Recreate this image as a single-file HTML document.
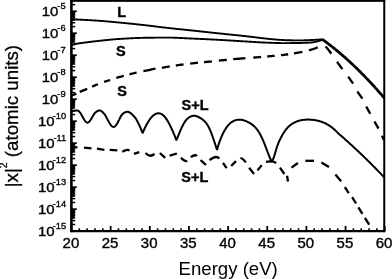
<!DOCTYPE html>
<html><head><meta charset="utf-8"><title>chart</title>
<style>html,body{margin:0;padding:0;background:#fff;overflow:hidden}body{width:392px;height:279px;font-family:"Liberation Sans",sans-serif}</style></head>
<body>
<svg width="392" height="279" viewBox="0 0 392 279" style="display:block;will-change:transform;filter:grayscale(1);font-family:'Liberation Sans',sans-serif" fill="#000">
<path d="M71.40 0 V232.15" stroke="#000" stroke-width="2.6" fill="none"/>
<path d="M384.25 0 V232.15" stroke="#000" stroke-width="2.0" fill="none"/>
<path d="M70.10 231.10 H385.25" stroke="#000" stroke-width="2.1" fill="none"/>
<rect x="70.10" y="0" width="315.15" height="1.85" fill="#000"/>
<line x1="71.50" y1="231.10" x2="71.50" y2="225.90" stroke="#000" stroke-width="1.8"/>
<line x1="79.33" y1="231.10" x2="79.33" y2="228.30" stroke="#000" stroke-width="1.6"/>
<line x1="87.16" y1="231.10" x2="87.16" y2="228.30" stroke="#000" stroke-width="1.6"/>
<line x1="94.99" y1="231.10" x2="94.99" y2="228.30" stroke="#000" stroke-width="1.6"/>
<line x1="102.82" y1="231.10" x2="102.82" y2="228.30" stroke="#000" stroke-width="1.6"/>
<line x1="110.65" y1="231.10" x2="110.65" y2="225.90" stroke="#000" stroke-width="1.8"/>
<line x1="118.48" y1="231.10" x2="118.48" y2="228.30" stroke="#000" stroke-width="1.6"/>
<line x1="126.31" y1="231.10" x2="126.31" y2="228.30" stroke="#000" stroke-width="1.6"/>
<line x1="134.14" y1="231.10" x2="134.14" y2="228.30" stroke="#000" stroke-width="1.6"/>
<line x1="141.97" y1="231.10" x2="141.97" y2="228.30" stroke="#000" stroke-width="1.6"/>
<line x1="149.80" y1="231.10" x2="149.80" y2="225.90" stroke="#000" stroke-width="1.8"/>
<line x1="157.63" y1="231.10" x2="157.63" y2="228.30" stroke="#000" stroke-width="1.6"/>
<line x1="165.46" y1="231.10" x2="165.46" y2="228.30" stroke="#000" stroke-width="1.6"/>
<line x1="173.29" y1="231.10" x2="173.29" y2="228.30" stroke="#000" stroke-width="1.6"/>
<line x1="181.12" y1="231.10" x2="181.12" y2="228.30" stroke="#000" stroke-width="1.6"/>
<line x1="188.95" y1="231.10" x2="188.95" y2="225.90" stroke="#000" stroke-width="1.8"/>
<line x1="196.78" y1="231.10" x2="196.78" y2="228.30" stroke="#000" stroke-width="1.6"/>
<line x1="204.61" y1="231.10" x2="204.61" y2="228.30" stroke="#000" stroke-width="1.6"/>
<line x1="212.44" y1="231.10" x2="212.44" y2="228.30" stroke="#000" stroke-width="1.6"/>
<line x1="220.27" y1="231.10" x2="220.27" y2="228.30" stroke="#000" stroke-width="1.6"/>
<line x1="228.10" y1="231.10" x2="228.10" y2="225.90" stroke="#000" stroke-width="1.8"/>
<line x1="235.93" y1="231.10" x2="235.93" y2="228.30" stroke="#000" stroke-width="1.6"/>
<line x1="243.76" y1="231.10" x2="243.76" y2="228.30" stroke="#000" stroke-width="1.6"/>
<line x1="251.59" y1="231.10" x2="251.59" y2="228.30" stroke="#000" stroke-width="1.6"/>
<line x1="259.42" y1="231.10" x2="259.42" y2="228.30" stroke="#000" stroke-width="1.6"/>
<line x1="267.25" y1="231.10" x2="267.25" y2="225.90" stroke="#000" stroke-width="1.8"/>
<line x1="275.08" y1="231.10" x2="275.08" y2="228.30" stroke="#000" stroke-width="1.6"/>
<line x1="282.91" y1="231.10" x2="282.91" y2="228.30" stroke="#000" stroke-width="1.6"/>
<line x1="290.74" y1="231.10" x2="290.74" y2="228.30" stroke="#000" stroke-width="1.6"/>
<line x1="298.57" y1="231.10" x2="298.57" y2="228.30" stroke="#000" stroke-width="1.6"/>
<line x1="306.40" y1="231.10" x2="306.40" y2="225.90" stroke="#000" stroke-width="1.8"/>
<line x1="314.23" y1="231.10" x2="314.23" y2="228.30" stroke="#000" stroke-width="1.6"/>
<line x1="322.06" y1="231.10" x2="322.06" y2="228.30" stroke="#000" stroke-width="1.6"/>
<line x1="329.89" y1="231.10" x2="329.89" y2="228.30" stroke="#000" stroke-width="1.6"/>
<line x1="337.72" y1="231.10" x2="337.72" y2="228.30" stroke="#000" stroke-width="1.6"/>
<line x1="345.55" y1="231.10" x2="345.55" y2="225.90" stroke="#000" stroke-width="1.8"/>
<line x1="353.38" y1="231.10" x2="353.38" y2="228.30" stroke="#000" stroke-width="1.6"/>
<line x1="361.21" y1="231.10" x2="361.21" y2="228.30" stroke="#000" stroke-width="1.6"/>
<line x1="369.04" y1="231.10" x2="369.04" y2="228.30" stroke="#000" stroke-width="1.6"/>
<line x1="376.87" y1="231.10" x2="376.87" y2="228.30" stroke="#000" stroke-width="1.6"/>
<line x1="384.70" y1="231.10" x2="384.70" y2="225.90" stroke="#000" stroke-width="1.8"/>
<line x1="71.50" y1="231.10" x2="76.80" y2="231.10" stroke="#000" stroke-width="1.7"/>
<line x1="71.50" y1="224.48" x2="75.20" y2="224.48" stroke="#000" stroke-width="1.5"/>
<line x1="71.50" y1="220.61" x2="75.20" y2="220.61" stroke="#000" stroke-width="1.5"/>
<line x1="71.50" y1="217.86" x2="75.20" y2="217.86" stroke="#000" stroke-width="1.5"/>
<line x1="71.50" y1="215.73" x2="75.20" y2="215.73" stroke="#000" stroke-width="1.5"/>
<line x1="71.50" y1="213.99" x2="75.20" y2="213.99" stroke="#000" stroke-width="1.5"/>
<line x1="71.50" y1="212.52" x2="75.20" y2="212.52" stroke="#000" stroke-width="1.5"/>
<line x1="71.50" y1="211.25" x2="75.20" y2="211.25" stroke="#000" stroke-width="1.5"/>
<line x1="71.50" y1="210.12" x2="75.20" y2="210.12" stroke="#000" stroke-width="1.5"/>
<rect x="71.50" y="209.12" width="2.90" height="9.15" fill="#000"/>
<line x1="71.50" y1="209.12" x2="76.80" y2="209.12" stroke="#000" stroke-width="1.7"/>
<line x1="71.50" y1="202.50" x2="75.20" y2="202.50" stroke="#000" stroke-width="1.5"/>
<line x1="71.50" y1="198.63" x2="75.20" y2="198.63" stroke="#000" stroke-width="1.5"/>
<line x1="71.50" y1="195.88" x2="75.20" y2="195.88" stroke="#000" stroke-width="1.5"/>
<line x1="71.50" y1="193.75" x2="75.20" y2="193.75" stroke="#000" stroke-width="1.5"/>
<line x1="71.50" y1="192.01" x2="75.20" y2="192.01" stroke="#000" stroke-width="1.5"/>
<line x1="71.50" y1="190.54" x2="75.20" y2="190.54" stroke="#000" stroke-width="1.5"/>
<line x1="71.50" y1="189.26" x2="75.20" y2="189.26" stroke="#000" stroke-width="1.5"/>
<line x1="71.50" y1="188.14" x2="75.20" y2="188.14" stroke="#000" stroke-width="1.5"/>
<rect x="71.50" y="187.13" width="2.90" height="9.15" fill="#000"/>
<line x1="71.50" y1="187.13" x2="76.80" y2="187.13" stroke="#000" stroke-width="1.7"/>
<line x1="71.50" y1="180.51" x2="75.20" y2="180.51" stroke="#000" stroke-width="1.5"/>
<line x1="71.50" y1="176.64" x2="75.20" y2="176.64" stroke="#000" stroke-width="1.5"/>
<line x1="71.50" y1="173.89" x2="75.20" y2="173.89" stroke="#000" stroke-width="1.5"/>
<line x1="71.50" y1="171.76" x2="75.20" y2="171.76" stroke="#000" stroke-width="1.5"/>
<line x1="71.50" y1="170.02" x2="75.20" y2="170.02" stroke="#000" stroke-width="1.5"/>
<line x1="71.50" y1="168.55" x2="75.20" y2="168.55" stroke="#000" stroke-width="1.5"/>
<line x1="71.50" y1="167.28" x2="75.20" y2="167.28" stroke="#000" stroke-width="1.5"/>
<line x1="71.50" y1="166.15" x2="75.20" y2="166.15" stroke="#000" stroke-width="1.5"/>
<rect x="71.50" y="165.14" width="2.90" height="9.15" fill="#000"/>
<line x1="71.50" y1="165.14" x2="76.80" y2="165.14" stroke="#000" stroke-width="1.7"/>
<line x1="71.50" y1="158.53" x2="75.20" y2="158.53" stroke="#000" stroke-width="1.5"/>
<line x1="71.50" y1="154.66" x2="75.20" y2="154.66" stroke="#000" stroke-width="1.5"/>
<line x1="71.50" y1="151.91" x2="75.20" y2="151.91" stroke="#000" stroke-width="1.5"/>
<line x1="71.50" y1="149.78" x2="75.20" y2="149.78" stroke="#000" stroke-width="1.5"/>
<line x1="71.50" y1="148.04" x2="75.20" y2="148.04" stroke="#000" stroke-width="1.5"/>
<line x1="71.50" y1="146.57" x2="75.20" y2="146.57" stroke="#000" stroke-width="1.5"/>
<line x1="71.50" y1="145.29" x2="75.20" y2="145.29" stroke="#000" stroke-width="1.5"/>
<line x1="71.50" y1="144.17" x2="75.20" y2="144.17" stroke="#000" stroke-width="1.5"/>
<rect x="71.50" y="143.16" width="2.90" height="9.15" fill="#000"/>
<line x1="71.50" y1="143.16" x2="76.80" y2="143.16" stroke="#000" stroke-width="1.7"/>
<line x1="71.50" y1="136.54" x2="75.20" y2="136.54" stroke="#000" stroke-width="1.5"/>
<line x1="71.50" y1="132.67" x2="75.20" y2="132.67" stroke="#000" stroke-width="1.5"/>
<line x1="71.50" y1="129.92" x2="75.20" y2="129.92" stroke="#000" stroke-width="1.5"/>
<line x1="71.50" y1="127.79" x2="75.20" y2="127.79" stroke="#000" stroke-width="1.5"/>
<line x1="71.50" y1="126.05" x2="75.20" y2="126.05" stroke="#000" stroke-width="1.5"/>
<line x1="71.50" y1="124.58" x2="75.20" y2="124.58" stroke="#000" stroke-width="1.5"/>
<line x1="71.50" y1="123.31" x2="75.20" y2="123.31" stroke="#000" stroke-width="1.5"/>
<line x1="71.50" y1="122.18" x2="75.20" y2="122.18" stroke="#000" stroke-width="1.5"/>
<rect x="71.50" y="121.17" width="2.90" height="9.15" fill="#000"/>
<line x1="71.50" y1="121.17" x2="76.80" y2="121.17" stroke="#000" stroke-width="1.7"/>
<line x1="71.50" y1="114.56" x2="75.20" y2="114.56" stroke="#000" stroke-width="1.5"/>
<line x1="71.50" y1="110.69" x2="75.20" y2="110.69" stroke="#000" stroke-width="1.5"/>
<line x1="71.50" y1="107.94" x2="75.20" y2="107.94" stroke="#000" stroke-width="1.5"/>
<line x1="71.50" y1="105.81" x2="75.20" y2="105.81" stroke="#000" stroke-width="1.5"/>
<line x1="71.50" y1="104.07" x2="75.20" y2="104.07" stroke="#000" stroke-width="1.5"/>
<line x1="71.50" y1="102.60" x2="75.20" y2="102.60" stroke="#000" stroke-width="1.5"/>
<line x1="71.50" y1="101.32" x2="75.20" y2="101.32" stroke="#000" stroke-width="1.5"/>
<line x1="71.50" y1="100.20" x2="75.20" y2="100.20" stroke="#000" stroke-width="1.5"/>
<rect x="71.50" y="99.19" width="2.90" height="9.15" fill="#000"/>
<line x1="71.50" y1="99.19" x2="76.80" y2="99.19" stroke="#000" stroke-width="1.7"/>
<line x1="71.50" y1="92.57" x2="75.20" y2="92.57" stroke="#000" stroke-width="1.5"/>
<line x1="71.50" y1="88.70" x2="75.20" y2="88.70" stroke="#000" stroke-width="1.5"/>
<line x1="71.50" y1="85.95" x2="75.20" y2="85.95" stroke="#000" stroke-width="1.5"/>
<line x1="71.50" y1="83.82" x2="75.20" y2="83.82" stroke="#000" stroke-width="1.5"/>
<line x1="71.50" y1="82.08" x2="75.20" y2="82.08" stroke="#000" stroke-width="1.5"/>
<line x1="71.50" y1="80.61" x2="75.20" y2="80.61" stroke="#000" stroke-width="1.5"/>
<line x1="71.50" y1="79.34" x2="75.20" y2="79.34" stroke="#000" stroke-width="1.5"/>
<line x1="71.50" y1="78.21" x2="75.20" y2="78.21" stroke="#000" stroke-width="1.5"/>
<rect x="71.50" y="77.20" width="2.90" height="9.15" fill="#000"/>
<line x1="71.50" y1="77.21" x2="76.80" y2="77.21" stroke="#000" stroke-width="1.7"/>
<line x1="71.50" y1="70.59" x2="75.20" y2="70.59" stroke="#000" stroke-width="1.5"/>
<line x1="71.50" y1="66.72" x2="75.20" y2="66.72" stroke="#000" stroke-width="1.5"/>
<line x1="71.50" y1="63.97" x2="75.20" y2="63.97" stroke="#000" stroke-width="1.5"/>
<line x1="71.50" y1="61.84" x2="75.20" y2="61.84" stroke="#000" stroke-width="1.5"/>
<line x1="71.50" y1="60.10" x2="75.20" y2="60.10" stroke="#000" stroke-width="1.5"/>
<line x1="71.50" y1="58.63" x2="75.20" y2="58.63" stroke="#000" stroke-width="1.5"/>
<line x1="71.50" y1="57.35" x2="75.20" y2="57.35" stroke="#000" stroke-width="1.5"/>
<line x1="71.50" y1="56.23" x2="75.20" y2="56.23" stroke="#000" stroke-width="1.5"/>
<rect x="71.50" y="55.22" width="2.90" height="9.15" fill="#000"/>
<line x1="71.50" y1="55.22" x2="76.80" y2="55.22" stroke="#000" stroke-width="1.7"/>
<line x1="71.50" y1="48.60" x2="75.20" y2="48.60" stroke="#000" stroke-width="1.5"/>
<line x1="71.50" y1="44.73" x2="75.20" y2="44.73" stroke="#000" stroke-width="1.5"/>
<line x1="71.50" y1="41.98" x2="75.20" y2="41.98" stroke="#000" stroke-width="1.5"/>
<line x1="71.50" y1="39.85" x2="75.20" y2="39.85" stroke="#000" stroke-width="1.5"/>
<line x1="71.50" y1="38.11" x2="75.20" y2="38.11" stroke="#000" stroke-width="1.5"/>
<line x1="71.50" y1="36.64" x2="75.20" y2="36.64" stroke="#000" stroke-width="1.5"/>
<line x1="71.50" y1="35.37" x2="75.20" y2="35.37" stroke="#000" stroke-width="1.5"/>
<line x1="71.50" y1="34.24" x2="75.20" y2="34.24" stroke="#000" stroke-width="1.5"/>
<rect x="71.50" y="33.23" width="2.90" height="9.15" fill="#000"/>
<line x1="71.50" y1="33.23" x2="76.80" y2="33.23" stroke="#000" stroke-width="1.7"/>
<line x1="71.50" y1="26.62" x2="75.20" y2="26.62" stroke="#000" stroke-width="1.5"/>
<line x1="71.50" y1="22.75" x2="75.20" y2="22.75" stroke="#000" stroke-width="1.5"/>
<line x1="71.50" y1="20.00" x2="75.20" y2="20.00" stroke="#000" stroke-width="1.5"/>
<line x1="71.50" y1="17.87" x2="75.20" y2="17.87" stroke="#000" stroke-width="1.5"/>
<line x1="71.50" y1="16.13" x2="75.20" y2="16.13" stroke="#000" stroke-width="1.5"/>
<line x1="71.50" y1="14.66" x2="75.20" y2="14.66" stroke="#000" stroke-width="1.5"/>
<line x1="71.50" y1="13.38" x2="75.20" y2="13.38" stroke="#000" stroke-width="1.5"/>
<line x1="71.50" y1="12.26" x2="75.20" y2="12.26" stroke="#000" stroke-width="1.5"/>
<rect x="71.50" y="11.25" width="2.90" height="9.15" fill="#000"/>
<line x1="71.50" y1="11.25" x2="76.80" y2="11.25" stroke="#000" stroke-width="1.7"/>
<line x1="71.50" y1="4.63" x2="75.20" y2="4.63" stroke="#000" stroke-width="1.5"/>
<text transform="translate(70.90,247.60) scale(1,0.920)" font-size="15" text-anchor="middle" stroke="#000" stroke-width="0.4">20</text>
<text transform="translate(110.05,247.60) scale(1,0.920)" font-size="15" text-anchor="middle" stroke="#000" stroke-width="0.4">25</text>
<text transform="translate(149.20,247.60) scale(1,0.920)" font-size="15" text-anchor="middle" stroke="#000" stroke-width="0.4">30</text>
<text transform="translate(188.35,247.60) scale(1,0.920)" font-size="15" text-anchor="middle" stroke="#000" stroke-width="0.4">35</text>
<text transform="translate(227.50,247.60) scale(1,0.920)" font-size="15" text-anchor="middle" stroke="#000" stroke-width="0.4">40</text>
<text transform="translate(266.65,247.60) scale(1,0.920)" font-size="15" text-anchor="middle" stroke="#000" stroke-width="0.4">45</text>
<text transform="translate(305.80,247.60) scale(1,0.920)" font-size="15" text-anchor="middle" stroke="#000" stroke-width="0.4">50</text>
<text transform="translate(344.95,247.60) scale(1,0.920)" font-size="15" text-anchor="middle" stroke="#000" stroke-width="0.4">55</text>
<text transform="translate(384.10,247.60) scale(1,0.920)" font-size="15" text-anchor="middle" stroke="#000" stroke-width="0.4">60</text>
<text transform="translate(54.60,236.10) scale(1,0.88)" font-size="15" text-anchor="end" stroke="#000" stroke-width="0.4">10</text>
<text transform="translate(66.20,228.60) scale(1,0.95)" font-size="9.3" text-anchor="end" stroke="#000" stroke-width="0.35">-15</text>
<text transform="translate(54.60,214.12) scale(1,0.88)" font-size="15" text-anchor="end" stroke="#000" stroke-width="0.4">10</text>
<text transform="translate(66.20,206.62) scale(1,0.95)" font-size="9.3" text-anchor="end" stroke="#000" stroke-width="0.35">-14</text>
<text transform="translate(54.60,192.13) scale(1,0.88)" font-size="15" text-anchor="end" stroke="#000" stroke-width="0.4">10</text>
<text transform="translate(66.20,184.63) scale(1,0.95)" font-size="9.3" text-anchor="end" stroke="#000" stroke-width="0.35">-13</text>
<text transform="translate(54.60,170.14) scale(1,0.88)" font-size="15" text-anchor="end" stroke="#000" stroke-width="0.4">10</text>
<text transform="translate(66.20,162.64) scale(1,0.95)" font-size="9.3" text-anchor="end" stroke="#000" stroke-width="0.35">-12</text>
<text transform="translate(54.60,148.16) scale(1,0.88)" font-size="15" text-anchor="end" stroke="#000" stroke-width="0.4">10</text>
<text transform="translate(66.20,140.66) scale(1,0.95)" font-size="9.3" text-anchor="end" stroke="#000" stroke-width="0.35">-11</text>
<text transform="translate(54.60,126.17) scale(1,0.88)" font-size="15" text-anchor="end" stroke="#000" stroke-width="0.4">10</text>
<text transform="translate(66.20,118.67) scale(1,0.95)" font-size="9.3" text-anchor="end" stroke="#000" stroke-width="0.35">-10</text>
<text transform="translate(58.30,104.19) scale(1,0.88)" font-size="15" text-anchor="end" stroke="#000" stroke-width="0.4">10</text>
<text transform="translate(65.60,96.69) scale(1,0.95)" font-size="9.3" text-anchor="end" stroke="#000" stroke-width="0.35">-9</text>
<text transform="translate(58.30,82.21) scale(1,0.88)" font-size="15" text-anchor="end" stroke="#000" stroke-width="0.4">10</text>
<text transform="translate(65.60,74.71) scale(1,0.95)" font-size="9.3" text-anchor="end" stroke="#000" stroke-width="0.35">-8</text>
<text transform="translate(58.30,60.22) scale(1,0.88)" font-size="15" text-anchor="end" stroke="#000" stroke-width="0.4">10</text>
<text transform="translate(65.60,52.72) scale(1,0.95)" font-size="9.3" text-anchor="end" stroke="#000" stroke-width="0.35">-7</text>
<text transform="translate(58.30,38.23) scale(1,0.88)" font-size="15" text-anchor="end" stroke="#000" stroke-width="0.4">10</text>
<text transform="translate(65.60,30.73) scale(1,0.95)" font-size="9.3" text-anchor="end" stroke="#000" stroke-width="0.35">-6</text>
<text transform="translate(58.30,16.25) scale(1,0.88)" font-size="15" text-anchor="end" stroke="#000" stroke-width="0.4">10</text>
<text transform="translate(65.60,8.75) scale(1,0.95)" font-size="9.3" text-anchor="end" stroke="#000" stroke-width="0.35">-5</text>
<text x="228.2" y="275.0" font-size="18.6" text-anchor="middle">Energy (eV)</text>
<text transform="translate(17.6,187.3) rotate(-90)" font-size="18.72" text-anchor="start" stroke="#000" stroke-width="0.3">|x|<tspan font-size="10.5" dy="-10.3">2</tspan><tspan dy="10.3"> (atomic units)</tspan></text>
<text transform="translate(117.20,16.80) scale(1,1.000)" font-size="14.5" font-weight="bold" text-anchor="start" stroke="#000" stroke-width="0.4">L</text>
<text transform="translate(115.90,55.80) scale(1,1.000)" font-size="14.5" font-weight="bold" text-anchor="start" stroke="#000" stroke-width="0.4">S</text>
<text transform="translate(117.20,96.10) scale(1,1.000)" font-size="14.5" font-weight="bold" text-anchor="start" stroke="#000" stroke-width="0.4">S</text>
<text transform="translate(181.50,110.00) scale(1,1.000)" font-size="14.5" font-weight="bold" text-anchor="start" stroke="#000" stroke-width="0.4">S+L</text>
<text transform="translate(181.30,181.60) scale(1,1.000)" font-size="14.5" font-weight="bold" text-anchor="start" stroke="#000" stroke-width="0.4">S+L</text>
<path d="M71.60 19.30 L72.10 19.32 L72.60 19.34 L73.10 19.35 L73.60 19.37 L74.10 19.39 L74.60 19.41 L75.10 19.43 L75.60 19.45 L76.10 19.48 L76.60 19.50 L77.10 19.52 L77.60 19.54 L78.09 19.56 L78.59 19.59 L79.09 19.61 L79.59 19.63 L80.09 19.66 L80.59 19.68 L81.09 19.71 L81.59 19.73 L82.09 19.76 L82.59 19.78 L83.09 19.81 L83.59 19.83 L84.09 19.86 L84.59 19.89 L85.09 19.91 L85.59 19.94 L86.09 19.97 L86.59 20.00 L87.09 20.02 L87.59 20.05 L88.09 20.08 L88.59 20.11 L89.09 20.14 L89.59 20.17 L90.09 20.20 L90.58 20.23 L91.08 20.26 L91.58 20.29 L92.08 20.32 L92.58 20.35 L93.08 20.38 L93.58 20.41 L94.08 20.44 L94.58 20.47 L95.08 20.51 L95.58 20.54 L96.08 20.57 L96.58 20.60 L97.08 20.64 L97.58 20.67 L98.08 20.71 L98.58 20.74 L99.08 20.78 L99.58 20.82 L100.08 20.85 L100.58 20.89 L101.08 20.93 L101.58 20.97 L102.08 21.01 L102.58 21.05 L103.07 21.09 L103.57 21.13 L104.07 21.17 L104.57 21.21 L105.07 21.25 L105.57 21.29 L106.07 21.34 L106.57 21.38 L107.07 21.42 L107.57 21.46 L108.07 21.51 L108.57 21.55 L109.07 21.60 L109.57 21.64 L110.07 21.68 L110.57 21.73 L111.07 21.77 L111.57 21.82 L112.07 21.87 L112.57 21.91 L113.07 21.96 L113.57 22.00 L114.07 22.05 L114.57 22.09 L115.07 22.14 L115.56 22.19 L116.06 22.23 L116.56 22.28 L117.06 22.33 L117.56 22.37 L118.06 22.42 L118.56 22.47 L119.06 22.51 L119.56 22.56 L120.06 22.61 L120.56 22.65 L121.06 22.70 L121.56 22.75 L122.06 22.79 L122.56 22.84 L123.06 22.89 L123.56 22.94 L124.06 22.99 L124.56 23.04 L125.06 23.08 L125.56 23.13 L126.06 23.18 L126.56 23.23 L127.06 23.28 L127.56 23.33 L128.05 23.38 L128.55 23.43 L129.05 23.49 L129.55 23.54 L130.05 23.59 L130.55 23.64 L131.05 23.69 L131.55 23.74 L132.05 23.79 L132.55 23.85 L133.05 23.90 L133.55 23.95 L134.05 24.01 L134.55 24.06 L135.05 24.11 L135.55 24.16 L136.05 24.22 L136.55 24.27 L137.05 24.33 L137.55 24.38 L138.05 24.43 L138.55 24.49 L139.05 24.54 L139.55 24.60 L140.05 24.65 L140.55 24.71 L141.04 24.76 L141.54 24.82 L142.04 24.87 L142.54 24.93 L143.04 24.98 L143.54 25.04 L144.04 25.09 L144.54 25.15 L145.04 25.20 L145.54 25.26 L146.04 25.32 L146.54 25.37 L147.04 25.43 L147.54 25.49 L148.04 25.55 L148.54 25.61 L149.04 25.67 L149.54 25.73 L150.04 25.79 L150.54 25.85 L151.04 25.91 L151.54 25.97 L152.04 26.03 L152.54 26.09 L153.04 26.15 L153.53 26.21 L154.03 26.27 L154.53 26.33 L155.03 26.40 L155.53 26.46 L156.03 26.52 L156.53 26.58 L157.03 26.64 L157.53 26.71 L158.03 26.77 L158.53 26.83 L159.03 26.89 L159.53 26.95 L160.03 27.01 L160.53 27.08 L161.03 27.14 L161.53 27.20 L162.03 27.26 L162.53 27.32 L163.03 27.38 L163.53 27.44 L164.03 27.50 L164.53 27.56 L165.03 27.62 L165.53 27.67 L166.02 27.73 L166.52 27.79 L167.02 27.85 L167.52 27.90 L168.02 27.96 L168.52 28.01 L169.02 28.07 L169.52 28.13 L170.02 28.18 L170.52 28.24 L171.02 28.29 L171.52 28.34 L172.02 28.40 L172.52 28.45 L173.02 28.51 L173.52 28.56 L174.02 28.61 L174.52 28.67 L175.02 28.72 L175.52 28.77 L176.02 28.83 L176.52 28.88 L177.02 28.93 L177.52 28.98 L178.02 29.04 L178.51 29.09 L179.01 29.14 L179.51 29.19 L180.01 29.24 L180.51 29.30 L181.01 29.35 L181.51 29.40 L182.01 29.45 L182.51 29.50 L183.01 29.55 L183.51 29.61 L184.01 29.66 L184.51 29.71 L185.01 29.76 L185.51 29.81 L186.01 29.87 L186.51 29.92 L187.01 29.97 L187.51 30.02 L188.01 30.07 L188.51 30.13 L189.01 30.18 L189.51 30.23 L190.01 30.28 L190.51 30.34 L191.00 30.39 L191.50 30.44 L192.00 30.49 L192.50 30.55 L193.00 30.60 L193.50 30.65 L194.00 30.71 L194.50 30.76 L195.00 30.81 L195.50 30.87 L196.00 30.92 L196.50 30.98 L197.00 31.03 L197.50 31.08 L198.00 31.14 L198.50 31.19 L199.00 31.25 L199.50 31.30 L200.00 31.35 L200.50 31.41 L201.00 31.46 L201.50 31.52 L202.00 31.57 L202.50 31.63 L203.00 31.68 L203.49 31.73 L203.99 31.79 L204.49 31.84 L204.99 31.90 L205.49 31.95 L205.99 32.01 L206.49 32.06 L206.99 32.12 L207.49 32.17 L207.99 32.22 L208.49 32.28 L208.99 32.33 L209.49 32.39 L209.99 32.44 L210.49 32.49 L210.99 32.55 L211.49 32.60 L211.99 32.66 L212.49 32.71 L212.99 32.76 L213.49 32.82 L213.99 32.87 L214.49 32.93 L214.99 32.98 L215.49 33.03 L215.98 33.09 L216.48 33.14 L216.98 33.19 L217.48 33.25 L217.98 33.30 L218.48 33.35 L218.98 33.40 L219.48 33.46 L219.98 33.51 L220.48 33.56 L220.98 33.61 L221.48 33.66 L221.98 33.72 L222.48 33.77 L222.98 33.82 L223.48 33.87 L223.98 33.92 L224.48 33.97 L224.98 34.02 L225.48 34.08 L225.98 34.13 L226.48 34.18 L226.98 34.23 L227.48 34.28 L227.98 34.33 L228.47 34.38 L228.97 34.43 L229.47 34.48 L229.97 34.53 L230.47 34.58 L230.97 34.64 L231.47 34.69 L231.97 34.74 L232.47 34.79 L232.97 34.84 L233.47 34.89 L233.97 34.94 L234.47 34.99 L234.97 35.05 L235.47 35.10 L235.97 35.15 L236.47 35.20 L236.97 35.25 L237.47 35.31 L237.97 35.36 L238.47 35.41 L238.97 35.46 L239.47 35.52 L239.97 35.57 L240.47 35.62 L240.96 35.68 L241.46 35.73 L241.96 35.79 L242.46 35.84 L242.96 35.90 L243.46 35.95 L243.96 36.01 L244.46 36.06 L244.96 36.12 L245.46 36.17 L245.96 36.23 L246.46 36.29 L246.96 36.34 L247.46 36.40 L247.96 36.46 L248.46 36.52 L248.96 36.57 L249.46 36.63 L249.96 36.69 L250.46 36.75 L250.96 36.81 L251.46 36.87 L251.96 36.92 L252.46 36.98 L252.96 37.04 L253.45 37.10 L253.95 37.16 L254.45 37.22 L254.95 37.28 L255.45 37.34 L255.95 37.39 L256.45 37.45 L256.95 37.51 L257.45 37.57 L257.95 37.64 L258.45 37.70 L258.95 37.76 L259.45 37.82 L259.95 37.88 L260.45 37.95 L260.95 38.01 L261.45 38.07 L261.95 38.13 L262.45 38.19 L262.95 38.25 L263.45 38.31 L263.95 38.37 L264.45 38.43 L264.95 38.49 L265.45 38.54 L265.95 38.59 L266.44 38.65 L266.94 38.70 L267.44 38.75 L267.94 38.81 L268.44 38.86 L268.94 38.91 L269.44 38.96 L269.94 39.01 L270.44 39.07 L270.94 39.12 L271.44 39.17 L271.94 39.22 L272.44 39.27 L272.94 39.31 L273.44 39.36 L273.94 39.41 L274.44 39.45 L274.94 39.50 L275.44 39.54 L275.94 39.58 L276.44 39.62 L276.94 39.66 L277.44 39.70 L277.94 39.73 L278.44 39.76 L278.93 39.80 L279.43 39.83 L279.93 39.86 L280.43 39.89 L280.93 39.92 L281.43 39.94 L281.93 39.97 L282.43 40.00 L282.93 40.03 L283.43 40.06 L283.93 40.08 L284.43 40.11 L284.93 40.13 L285.43 40.15 L285.93 40.18 L286.43 40.20 L286.93 40.22 L287.43 40.23 L287.93 40.25 L288.43 40.27 L288.93 40.28 L289.43 40.29 L289.93 40.30 L290.43 40.31 L290.93 40.31 L291.42 40.32 L291.92 40.33 L292.42 40.34 L292.92 40.34 L293.42 40.35 L293.92 40.36 L294.42 40.36 L294.92 40.37 L295.42 40.37 L295.92 40.38 L296.42 40.38 L296.92 40.39 L297.42 40.39 L297.92 40.39 L298.42 40.40 L298.92 40.40 L299.42 40.40 L299.92 40.40 L300.42 40.40 L300.92 40.40 L301.42 40.39 L301.92 40.38 L302.42 40.38 L302.92 40.36 L303.42 40.35 L303.91 40.34 L304.41 40.32 L304.91 40.31 L305.41 40.29 L305.91 40.27 L306.41 40.25 L306.91 40.23 L307.41 40.21 L307.91 40.19 L308.41 40.17 L308.91 40.14 L309.41 40.12 L309.91 40.10 L310.41 40.07 L310.91 40.05 L311.41 40.03 L311.91 40.00 L312.41 39.98 L312.91 39.96 L313.41 39.93 L313.91 39.90 L314.41 39.88 L314.91 39.85 L315.41 39.82 L315.91 39.79 L316.40 39.75 L316.90 39.72 L317.40 39.69 L317.90 39.65 L318.40 39.61 L318.90 39.58 L319.40 39.54 L319.90 39.50 L320.40 39.46 L320.90 39.42 L321.40 39.38 L321.90 39.34 L322.40 39.30 L322.95 39.30 L323.99 40.05 L325.03 40.82 L326.08 41.59 L327.12 42.37 L328.16 43.15 L329.20 43.95 L330.25 44.75 L331.29 45.56 L332.33 46.38 L333.37 47.21 L334.42 48.04 L335.46 48.89 L336.50 49.74 L337.54 50.60 L338.59 51.46 L339.63 52.34 L340.67 53.22 L341.71 54.11 L342.76 55.01 L343.80 55.92 L344.84 56.83 L345.88 57.76 L346.92 58.69 L347.97 59.63 L349.01 60.58 L350.05 61.53 L351.09 62.49 L352.14 63.47 L353.18 64.45 L354.22 65.43 L355.26 66.43 L356.31 67.43 L357.35 68.44 L358.39 69.46 L359.43 70.49 L360.48 71.53 L361.52 72.57 L362.56 73.62 L363.60 74.68 L364.64 75.75 L365.69 76.83 L366.73 77.91 L367.77 79.01 L368.81 80.11 L369.86 81.21 L370.90 82.33 L371.94 83.45 L372.98 84.59 L374.03 85.73 L375.07 86.88 L376.11 88.03 L377.15 89.20 L378.20 90.37 L379.24 91.55 L380.28 92.74 L381.32 93.94 L382.37 95.14 L383.41 96.35 L384.45 97.57" fill="none" stroke="#000" stroke-width="1.90" stroke-linejoin="round" stroke-linecap="butt" />
<path d="M71.60 44.50 L72.10 44.42 L72.60 44.34 L73.10 44.26 L73.60 44.18 L74.10 44.10 L74.60 44.03 L75.10 43.95 L75.60 43.87 L76.10 43.80 L76.60 43.72 L77.10 43.65 L77.60 43.57 L78.09 43.50 L78.59 43.42 L79.09 43.35 L79.59 43.28 L80.09 43.21 L80.59 43.13 L81.09 43.06 L81.59 42.99 L82.09 42.92 L82.59 42.86 L83.09 42.79 L83.59 42.72 L84.09 42.65 L84.59 42.59 L85.09 42.52 L85.59 42.45 L86.09 42.39 L86.59 42.32 L87.09 42.26 L87.59 42.19 L88.09 42.13 L88.59 42.06 L89.09 42.00 L89.59 41.94 L90.09 41.88 L90.58 41.81 L91.08 41.75 L91.58 41.69 L92.08 41.63 L92.58 41.58 L93.08 41.52 L93.58 41.46 L94.08 41.40 L94.58 41.35 L95.08 41.29 L95.58 41.24 L96.08 41.18 L96.58 41.13 L97.08 41.07 L97.58 41.01 L98.08 40.96 L98.58 40.90 L99.08 40.85 L99.58 40.79 L100.08 40.74 L100.58 40.68 L101.08 40.63 L101.58 40.57 L102.08 40.52 L102.58 40.46 L103.07 40.41 L103.57 40.36 L104.07 40.30 L104.57 40.25 L105.07 40.20 L105.57 40.14 L106.07 40.09 L106.57 40.04 L107.07 39.99 L107.57 39.94 L108.07 39.89 L108.57 39.84 L109.07 39.79 L109.57 39.74 L110.07 39.69 L110.57 39.64 L111.07 39.60 L111.57 39.55 L112.07 39.51 L112.57 39.46 L113.07 39.42 L113.57 39.37 L114.07 39.33 L114.57 39.29 L115.07 39.25 L115.56 39.21 L116.06 39.17 L116.56 39.13 L117.06 39.10 L117.56 39.06 L118.06 39.03 L118.56 38.99 L119.06 38.96 L119.56 38.93 L120.06 38.90 L120.56 38.87 L121.06 38.84 L121.56 38.81 L122.06 38.78 L122.56 38.75 L123.06 38.72 L123.56 38.69 L124.06 38.66 L124.56 38.63 L125.06 38.60 L125.56 38.57 L126.06 38.54 L126.56 38.52 L127.06 38.49 L127.56 38.46 L128.05 38.43 L128.55 38.41 L129.05 38.38 L129.55 38.35 L130.05 38.33 L130.55 38.30 L131.05 38.28 L131.55 38.25 L132.05 38.23 L132.55 38.20 L133.05 38.18 L133.55 38.16 L134.05 38.14 L134.55 38.11 L135.05 38.09 L135.55 38.07 L136.05 38.05 L136.55 38.03 L137.05 38.01 L137.55 37.99 L138.05 37.98 L138.55 37.96 L139.05 37.94 L139.55 37.93 L140.05 37.91 L140.55 37.90 L141.04 37.88 L141.54 37.87 L142.04 37.86 L142.54 37.85 L143.04 37.83 L143.54 37.82 L144.04 37.82 L144.54 37.81 L145.04 37.80 L145.54 37.79 L146.04 37.78 L146.54 37.78 L147.04 37.77 L147.54 37.76 L148.04 37.76 L148.54 37.75 L149.04 37.74 L149.54 37.74 L150.04 37.73 L150.54 37.72 L151.04 37.72 L151.54 37.71 L152.04 37.70 L152.54 37.70 L153.04 37.69 L153.53 37.69 L154.03 37.68 L154.53 37.68 L155.03 37.67 L155.53 37.67 L156.03 37.66 L156.53 37.66 L157.03 37.65 L157.53 37.65 L158.03 37.64 L158.53 37.64 L159.03 37.63 L159.53 37.63 L160.03 37.63 L160.53 37.62 L161.03 37.62 L161.53 37.62 L162.03 37.62 L162.53 37.61 L163.03 37.61 L163.53 37.61 L164.03 37.61 L164.53 37.60 L165.03 37.60 L165.53 37.60 L166.02 37.60 L166.52 37.60 L167.02 37.60 L167.52 37.60 L168.02 37.60 L168.52 37.60 L169.02 37.61 L169.52 37.61 L170.02 37.62 L170.52 37.63 L171.02 37.63 L171.52 37.64 L172.02 37.65 L172.52 37.67 L173.02 37.68 L173.52 37.69 L174.02 37.71 L174.52 37.73 L175.02 37.74 L175.52 37.76 L176.02 37.78 L176.52 37.80 L177.02 37.82 L177.52 37.84 L178.02 37.86 L178.51 37.88 L179.01 37.90 L179.51 37.93 L180.01 37.95 L180.51 37.98 L181.01 38.00 L181.51 38.02 L182.01 38.05 L182.51 38.07 L183.01 38.10 L183.51 38.13 L184.01 38.15 L184.51 38.18 L185.01 38.20 L185.51 38.23 L186.01 38.26 L186.51 38.28 L187.01 38.31 L187.51 38.33 L188.01 38.36 L188.51 38.39 L189.01 38.41 L189.51 38.44 L190.01 38.46 L190.51 38.49 L191.00 38.51 L191.50 38.53 L192.00 38.56 L192.50 38.58 L193.00 38.60 L193.50 38.62 L194.00 38.64 L194.50 38.67 L195.00 38.69 L195.50 38.71 L196.00 38.73 L196.50 38.75 L197.00 38.78 L197.50 38.80 L198.00 38.82 L198.50 38.84 L199.00 38.87 L199.50 38.89 L200.00 38.91 L200.50 38.93 L201.00 38.96 L201.50 38.98 L202.00 39.00 L202.50 39.03 L203.00 39.05 L203.49 39.07 L203.99 39.10 L204.49 39.12 L204.99 39.14 L205.49 39.17 L205.99 39.19 L206.49 39.22 L206.99 39.24 L207.49 39.26 L207.99 39.29 L208.49 39.31 L208.99 39.34 L209.49 39.36 L209.99 39.39 L210.49 39.41 L210.99 39.44 L211.49 39.46 L211.99 39.49 L212.49 39.51 L212.99 39.54 L213.49 39.56 L213.99 39.59 L214.49 39.62 L214.99 39.64 L215.49 39.67 L215.98 39.69 L216.48 39.72 L216.98 39.75 L217.48 39.77 L217.98 39.80 L218.48 39.83 L218.98 39.85 L219.48 39.88 L219.98 39.91 L220.48 39.94 L220.98 39.96 L221.48 39.99 L221.98 40.02 L222.48 40.05 L222.98 40.08 L223.48 40.11 L223.98 40.14 L224.48 40.17 L224.98 40.20 L225.48 40.23 L225.98 40.26 L226.48 40.29 L226.98 40.32 L227.48 40.35 L227.98 40.38 L228.47 40.41 L228.97 40.44 L229.47 40.47 L229.97 40.50 L230.47 40.53 L230.97 40.56 L231.47 40.60 L231.97 40.63 L232.47 40.66 L232.97 40.69 L233.47 40.72 L233.97 40.75 L234.47 40.78 L234.97 40.81 L235.47 40.84 L235.97 40.88 L236.47 40.91 L236.97 40.94 L237.47 40.97 L237.97 41.00 L238.47 41.03 L238.97 41.06 L239.47 41.09 L239.97 41.12 L240.47 41.15 L240.96 41.18 L241.46 41.21 L241.96 41.24 L242.46 41.27 L242.96 41.30 L243.46 41.33 L243.96 41.36 L244.46 41.39 L244.96 41.42 L245.46 41.45 L245.96 41.48 L246.46 41.51 L246.96 41.54 L247.46 41.57 L247.96 41.60 L248.46 41.63 L248.96 41.66 L249.46 41.70 L249.96 41.73 L250.46 41.76 L250.96 41.79 L251.46 41.82 L251.96 41.85 L252.46 41.89 L252.96 41.92 L253.45 41.95 L253.95 41.98 L254.45 42.01 L254.95 42.04 L255.45 42.07 L255.95 42.10 L256.45 42.13 L256.95 42.16 L257.45 42.19 L257.95 42.22 L258.45 42.24 L258.95 42.27 L259.45 42.30 L259.95 42.32 L260.45 42.35 L260.95 42.38 L261.45 42.40 L261.95 42.43 L262.45 42.45 L262.95 42.47 L263.45 42.50 L263.95 42.52 L264.45 42.54 L264.95 42.56 L265.45 42.58 L265.95 42.60 L266.44 42.62 L266.94 42.64 L267.44 42.65 L267.94 42.67 L268.44 42.69 L268.94 42.71 L269.44 42.73 L269.94 42.75 L270.44 42.77 L270.94 42.79 L271.44 42.81 L271.94 42.83 L272.44 42.84 L272.94 42.86 L273.44 42.88 L273.94 42.90 L274.44 42.91 L274.94 42.93 L275.44 42.95 L275.94 42.96 L276.44 42.98 L276.94 42.99 L277.44 43.00 L277.94 43.02 L278.44 43.03 L278.93 43.04 L279.43 43.05 L279.93 43.06 L280.43 43.07 L280.93 43.08 L281.43 43.08 L281.93 43.09 L282.43 43.09 L282.93 43.10 L283.43 43.10 L283.93 43.10 L284.43 43.10 L284.93 43.10 L285.43 43.10 L285.93 43.10 L286.43 43.10 L286.93 43.09 L287.43 43.09 L287.93 43.09 L288.43 43.09 L288.93 43.09 L289.43 43.08 L289.93 43.08 L290.43 43.08 L290.93 43.07 L291.42 43.07 L291.92 43.06 L292.42 43.06 L292.92 43.06 L293.42 43.05 L293.92 43.05 L294.42 43.04 L294.92 43.04 L295.42 43.03 L295.92 43.03 L296.42 43.02 L296.92 43.02 L297.42 43.01 L297.92 43.00 L298.42 43.00 L298.92 42.99 L299.42 42.98 L299.92 42.98 L300.42 42.97 L300.92 42.96 L301.42 42.94 L301.92 42.93 L302.42 42.92 L302.92 42.90 L303.42 42.89 L303.91 42.87 L304.41 42.86 L304.91 42.84 L305.41 42.82 L305.91 42.80 L306.41 42.78 L306.91 42.76 L307.41 42.74 L307.91 42.71 L308.41 42.68 L308.91 42.65 L309.41 42.62 L309.91 42.58 L310.41 42.54 L310.91 42.50 L311.41 42.46 L311.91 42.41 L312.41 42.36 L312.91 42.29 L313.41 42.21 L313.91 42.13 L314.41 42.03 L314.91 41.93 L315.41 41.83 L315.91 41.72 L316.40 41.60 L316.90 41.47 L317.40 41.32 L317.90 41.17 L318.40 41.02 L318.90 40.87 L319.40 40.73 L319.90 40.60 L320.40 40.47 L320.90 40.35 L321.40 40.23 L321.90 40.11 L322.40 40.00 L322.45 40.00 L323.49 40.75 L324.53 41.52 L325.58 42.29 L326.62 43.07 L327.66 43.85 L328.70 44.65 L329.75 45.45 L330.79 46.26 L331.83 47.08 L332.87 47.91 L333.92 48.74 L334.96 49.59 L336.00 50.44 L337.04 51.30 L338.09 52.16 L339.13 53.04 L340.17 53.92 L341.21 54.81 L342.26 55.71 L343.30 56.62 L344.34 57.53 L345.38 58.46 L346.42 59.39 L347.47 60.33 L348.51 61.28 L349.55 62.23 L350.59 63.19 L351.64 64.17 L352.68 65.15 L353.72 66.13 L354.76 67.13 L355.81 68.13 L356.85 69.14 L357.89 70.16 L358.93 71.19 L359.98 72.23 L361.02 73.27 L362.06 74.32 L363.10 75.38 L364.14 76.45 L365.19 77.53 L366.23 78.61 L367.27 79.71 L368.31 80.81 L369.36 81.91 L370.40 83.03 L371.44 84.15 L372.48 85.29 L373.53 86.43 L374.57 87.58 L375.61 88.73 L376.65 89.90 L377.70 91.07 L378.74 92.25 L379.78 93.44 L380.82 94.64 L381.87 95.84 L382.91 97.05 L383.95 98.27" fill="none" stroke="#000" stroke-width="1.90" stroke-linejoin="round" stroke-linecap="butt" />
<path d="M71.60 95.30 L72.80 95.00 L74.00 94.63 L75.20 94.19 L76.40 93.70" fill="none" stroke="#000" stroke-width="2.30" stroke-linejoin="round" stroke-linecap="butt" />
<path d="M79.70 91.90 L80.95 91.34 L82.20 90.84 L83.45 90.36 L84.70 89.89 L85.95 89.41 L87.20 88.90" fill="none" stroke="#000" stroke-width="2.30" stroke-linejoin="round" stroke-linecap="butt" />
<path d="M92.20 86.60 L93.62 85.98 L95.05 85.37 L96.48 84.77 L97.90 84.20" fill="none" stroke="#000" stroke-width="2.30" stroke-linejoin="round" stroke-linecap="butt" />
<path d="M104.10 81.90 L105.30 81.50 L106.50 81.12 L107.70 80.75 L108.90 80.38 L110.10 80.00" fill="none" stroke="#000" stroke-width="2.30" stroke-linejoin="round" stroke-linecap="butt" />
<path d="M116.30 77.90 L117.55 77.54 L118.80 77.20 L120.05 76.88 L121.30 76.56 L122.55 76.23 L123.80 75.90" fill="none" stroke="#000" stroke-width="2.30" stroke-linejoin="round" stroke-linecap="butt" />
<path d="M129.50 74.30 L130.92 73.94 L132.34 73.59 L133.76 73.25 L135.18 72.92 L136.60 72.60" fill="none" stroke="#000" stroke-width="2.30" stroke-linejoin="round" stroke-linecap="butt" />
<path d="M143.40 71.20 L144.74 70.92 L146.09 70.63 L147.43 70.34 L148.78 70.05 L150.12 69.76 L151.47 69.47 L152.81 69.20 L154.16 68.94 L155.50 68.70" fill="none" stroke="#000" stroke-width="2.30" stroke-linejoin="round" stroke-linecap="butt" />
<path d="M161.80 67.73 L163.12 67.53 L164.43 67.32 L165.75 67.12 L167.07 66.92 L168.38 66.71 L169.70 66.50" fill="none" stroke="#000" stroke-width="2.30" stroke-linejoin="round" stroke-linecap="butt" />
<path d="M175.80 65.50 L177.10 65.30 L178.40 65.11 L179.70 64.93 L181.00 64.75 L182.30 64.57 L183.60 64.40" fill="none" stroke="#000" stroke-width="2.30" stroke-linejoin="round" stroke-linecap="butt" />
<path d="M190.10 63.60 L191.42 63.44 L192.73 63.29 L194.05 63.14 L195.37 62.99 L196.68 62.84 L198.00 62.70" fill="none" stroke="#000" stroke-width="2.30" stroke-linejoin="round" stroke-linecap="butt" />
<path d="M204.10 62.10 L205.40 61.98 L206.70 61.87 L208.00 61.76 L209.30 61.64 L210.60 61.53 L211.90 61.40" fill="none" stroke="#000" stroke-width="2.30" stroke-linejoin="round" stroke-linecap="butt" />
<path d="M218.90 60.60 L220.22 60.47 L221.53 60.36 L222.85 60.25 L224.17 60.14 L225.48 60.02 L226.80 59.90" fill="none" stroke="#000" stroke-width="2.30" stroke-linejoin="round" stroke-linecap="butt" />
<path d="M233.20 59.20 L234.56 59.07 L235.91 58.95 L237.27 58.84 L238.62 58.73 L239.98 58.62 L241.33 58.52 L242.69 58.41 L244.04 58.31 L245.40 58.20" fill="none" stroke="#000" stroke-width="2.30" stroke-linejoin="round" stroke-linecap="butt" />
<path d="M253.30 57.60 L254.60 57.50 L255.90 57.40 L257.20 57.30 L258.50 57.20 L259.80 57.10 L261.10 57.00" fill="none" stroke="#000" stroke-width="2.30" stroke-linejoin="round" stroke-linecap="butt" />
<path d="M267.20 56.50 L268.68 56.37 L270.16 56.23 L271.64 56.08 L273.12 55.94 L274.60 55.80" fill="none" stroke="#000" stroke-width="2.30" stroke-linejoin="round" stroke-linecap="butt" />
<path d="M281.10 55.20 L282.52 55.04 L283.94 54.87 L285.36 54.68 L286.78 54.49 L288.20 54.30" fill="none" stroke="#000" stroke-width="2.30" stroke-linejoin="round" stroke-linecap="butt" />
<path d="M294.00 53.47 L295.38 53.23 L296.77 52.98 L298.15 52.72 L299.53 52.44 L300.92 52.16 L302.30 51.86" fill="none" stroke="#000" stroke-width="2.30" stroke-linejoin="round" stroke-linecap="butt" />
<path d="M309.00 50.30 L310.45 49.89 L311.90 49.47 L313.35 49.01 L314.80 48.49 L316.25 47.90 L317.70 47.20" fill="none" stroke="#000" stroke-width="2.30" stroke-linejoin="round" stroke-linecap="butt" />
<path d="M325.60 46.47 L327.03 48.08 L328.45 49.88 L329.88 51.79 L331.30 53.73" fill="none" stroke="#000" stroke-width="2.30" stroke-linejoin="round" stroke-linecap="butt" />
<path d="M337.00 61.80 L338.35 63.65 L339.70 65.49 L341.05 67.30 L342.40 69.10" fill="none" stroke="#000" stroke-width="2.30" stroke-linejoin="round" stroke-linecap="butt" />
<path d="M348.20 76.70 L349.43 78.37 L350.65 80.06 L351.88 81.82 L353.10 83.70" fill="none" stroke="#000" stroke-width="2.30" stroke-linejoin="round" stroke-linecap="butt" />
<path d="M357.40 91.50 L358.62 93.33 L359.85 95.00 L361.07 96.69 L362.30 98.60" fill="none" stroke="#000" stroke-width="2.30" stroke-linejoin="round" stroke-linecap="butt" />
<path d="M366.20 106.50 L367.57 109.00 L368.93 111.39 L370.30 113.80" fill="none" stroke="#000" stroke-width="2.30" stroke-linejoin="round" stroke-linecap="butt" />
<path d="M374.50 121.50 L375.83 123.84 L377.17 126.16 L378.50 128.60" fill="none" stroke="#000" stroke-width="2.30" stroke-linejoin="round" stroke-linecap="butt" />
<path d="M382.00 135.80 L383.00 137.89 L384.00 140.00" fill="none" stroke="#000" stroke-width="2.30" stroke-linejoin="round" stroke-linecap="butt" />
<path d="M71.60 111.40 L72.10 111.24 L72.60 111.10 L73.10 110.97 L73.59 110.86 L74.09 110.79 L74.59 110.72 L75.09 110.66 L75.59 110.61 L76.09 110.56 L76.59 110.53 L77.08 110.51 L77.58 110.50 L78.08 110.66 L78.58 111.02 L79.08 111.50 L79.58 112.07 L80.08 112.66 L80.57 113.28 L81.07 114.07 L81.57 114.96 L82.07 115.89 L82.57 116.78 L83.07 117.63 L83.57 118.54 L84.06 119.44 L84.56 120.27 L85.06 120.95 L85.56 121.45 L86.06 121.92 L86.56 122.33 L87.06 122.61 L87.55 122.70 L88.05 122.55 L88.55 122.20 L89.05 121.74 L89.55 121.25 L90.05 120.69 L90.55 119.97 L91.04 119.15 L91.54 118.30 L92.04 117.49 L92.54 116.69 L93.04 115.84 L93.54 114.97 L94.04 114.14 L94.53 113.42 L95.03 112.85 L95.53 112.43 L96.03 112.04 L96.53 111.66 L97.03 111.32 L97.53 111.01 L98.02 110.76 L98.52 110.56 L99.02 110.44 L99.52 110.40 L100.02 110.46 L100.52 110.63 L101.02 110.89 L101.51 111.23 L102.01 111.63 L102.51 112.08 L103.01 112.57 L103.51 113.08 L104.01 113.60 L104.51 114.15 L105.00 114.86 L105.50 115.70 L106.00 116.62 L106.50 117.59 L107.00 118.56 L107.50 119.48 L108.00 120.33 L108.50 121.22 L108.99 122.13 L109.49 123.04 L109.99 123.89 L110.49 124.66 L110.99 125.29 L111.49 125.77 L111.99 126.21 L112.48 126.60 L112.98 126.89 L113.48 127.00 L113.98 126.90 L114.48 126.63 L114.98 126.25 L115.48 125.80 L115.97 125.32 L116.47 124.65 L116.97 123.84 L117.47 122.93 L117.97 121.98 L118.47 121.04 L118.97 120.11 L119.46 119.07 L119.96 117.99 L120.46 116.96 L120.96 116.04 L121.46 115.33 L121.96 114.73 L122.46 114.18 L122.95 113.68 L123.45 113.24 L123.95 112.89 L124.45 112.62 L124.95 112.42 L125.45 112.23 L125.95 112.06 L126.44 111.93 L126.94 111.84 L127.44 111.80 L127.94 111.83 L128.44 111.93 L128.94 112.10 L129.44 112.33 L129.93 112.62 L130.43 112.96 L130.93 113.34 L131.43 113.77 L131.93 114.22 L132.43 114.71 L132.93 115.23 L133.42 115.76 L133.92 116.30 L134.42 116.86 L134.92 117.41 L135.42 118.01 L135.92 118.72 L136.42 119.53 L136.91 120.43 L137.41 121.39 L137.91 122.39 L138.41 123.43 L138.91 124.47 L139.41 125.51 L139.91 126.58 L140.40 127.69 L140.90 128.85 L141.40 130.06 L141.90 131.30 L142.10 131.97 L142.30 132.42 L142.50 132.65 L142.70 132.67 L142.90 132.48 L143.10 132.08 L143.30 131.46 L143.79 130.34 L144.28 129.26 L144.78 128.21 L145.27 127.19 L145.76 126.20 L146.25 125.25 L146.75 124.33 L147.24 123.44 L147.73 122.59 L148.22 121.78 L148.72 121.00 L149.21 120.25 L149.70 119.55 L150.19 118.87 L150.69 118.24 L151.18 117.64 L151.67 117.08 L152.16 116.56 L152.66 116.07 L153.15 115.63 L153.64 115.22 L154.13 114.85 L154.63 114.52 L155.12 114.23 L155.61 113.98 L156.10 113.76 L156.60 113.59 L157.09 113.46 L157.58 113.36 L158.07 113.31 L158.57 113.30 L159.06 113.33 L159.55 113.40 L160.04 113.51 L160.53 113.66 L161.03 113.86 L161.52 114.10 L162.01 114.39 L162.50 114.73 L163.00 115.10 L163.49 115.53 L163.98 116.01 L164.47 116.53 L164.97 117.10 L165.46 117.72 L165.95 118.38 L166.44 119.09 L166.94 119.85 L167.43 120.64 L167.92 121.46 L168.41 122.33 L168.91 123.22 L169.40 124.15 L169.89 125.11 L170.38 126.10 L170.88 127.11 L171.37 128.16 L171.86 129.23 L172.35 130.33 L172.85 131.45 L173.34 132.60 L173.83 133.77 L174.32 134.96 L174.82 136.17 L175.31 137.40 L175.80 138.65 L175.97 139.26 L176.14 139.66 L176.31 139.87 L176.49 139.88 L176.66 139.70 L176.83 139.32 L177.00 138.75 L177.50 137.53 L178.00 136.31 L178.50 135.10 L179.00 133.89 L179.50 132.69 L180.00 131.51 L180.50 130.35 L180.99 129.21 L181.49 128.11 L181.99 127.04 L182.49 126.01 L182.99 125.02 L183.49 124.08 L183.99 123.20 L184.49 122.37 L184.99 121.61 L185.49 120.91 L185.99 120.26 L186.49 119.67 L186.99 119.13 L187.49 118.65 L187.99 118.20 L188.49 117.80 L188.98 117.44 L189.48 117.12 L189.98 116.83 L190.48 116.58 L190.98 116.36 L191.48 116.18 L191.98 116.04 L192.48 115.93 L192.98 115.85 L193.48 115.80 L193.98 115.79 L194.48 115.81 L194.98 115.86 L195.48 115.94 L195.98 116.05 L196.48 116.19 L196.97 116.35 L197.47 116.54 L197.97 116.75 L198.47 116.98 L198.97 117.24 L199.47 117.51 L199.97 117.80 L200.47 118.11 L200.97 118.43 L201.47 118.77 L201.97 119.12 L202.47 119.48 L202.97 119.87 L203.47 120.27 L203.97 120.71 L204.47 121.17 L204.96 121.68 L205.46 122.23 L205.96 122.82 L206.46 123.47 L206.96 124.17 L207.46 124.94 L207.96 125.78 L208.46 126.68 L208.96 127.66 L209.46 128.70 L209.96 129.81 L210.46 130.98 L210.96 132.21 L211.46 133.48 L211.96 134.81 L212.46 136.18 L212.95 137.58 L213.45 139.02 L213.95 140.49 L214.45 141.99 L214.95 143.51 L215.45 145.05 L215.95 146.61 L216.45 148.17 L216.61 148.81 L216.76 149.23 L216.92 149.42 L217.08 149.39 L217.24 149.13 L217.39 148.65 L217.55 147.95 L218.05 146.27 L218.55 144.67 L219.05 143.15 L219.55 141.70 L220.05 140.33 L220.55 139.02 L221.05 137.78 L221.55 136.60 L222.05 135.48 L222.55 134.40 L223.04 133.38 L223.54 132.41 L224.04 131.47 L224.54 130.58 L225.04 129.73 L225.54 128.92 L226.04 128.15 L226.54 127.42 L227.04 126.73 L227.54 126.07 L228.04 125.46 L228.54 124.88 L229.04 124.35 L229.54 123.85 L230.04 123.38 L230.54 122.95 L231.04 122.56 L231.54 122.19 L232.04 121.86 L232.54 121.55 L233.04 121.27 L233.54 121.01 L234.03 120.78 L234.53 120.58 L235.03 120.39 L235.53 120.23 L236.03 120.09 L236.53 119.97 L237.03 119.87 L237.53 119.79 L238.03 119.74 L238.53 119.70 L239.03 119.68 L239.53 119.67 L240.03 119.69 L240.53 119.72 L241.03 119.77 L241.53 119.84 L242.03 119.93 L242.53 120.03 L243.03 120.14 L243.53 120.27 L244.03 120.42 L244.52 120.58 L245.02 120.75 L245.52 120.94 L246.02 121.15 L246.52 121.36 L247.02 121.59 L247.52 121.83 L248.02 122.08 L248.52 122.35 L249.02 122.63 L249.52 122.91 L250.02 123.21 L250.52 123.52 L251.02 123.84 L251.52 124.18 L252.02 124.53 L252.52 124.90 L253.02 125.29 L253.52 125.71 L254.02 126.15 L254.52 126.61 L255.01 127.11 L255.51 127.63 L256.01 128.19 L256.51 128.79 L257.01 129.42 L257.51 130.09 L258.01 130.80 L258.51 131.55 L259.01 132.34 L259.51 133.17 L260.01 134.05 L260.51 134.97 L261.01 135.94 L261.51 136.96 L262.01 138.02 L262.51 139.13 L263.01 140.28 L263.51 141.47 L264.01 142.69 L264.51 143.94 L265.01 145.22 L265.51 146.51 L266.00 147.81 L266.50 149.12 L267.00 150.44 L267.50 151.74 L268.00 153.04 L268.50 154.32 L269.00 155.58 L269.50 156.80 L270.00 158.00 L270.50 159.15 L271.00 160.25 L271.14 160.74 L271.29 161.11 L271.43 161.35 L271.57 161.46 L271.71 161.44 L271.86 161.29 L272.00 161.02 L272.50 160.38 L272.99 159.44 L273.49 158.24 L273.99 156.84 L274.48 155.28 L274.98 153.62 L275.48 151.90 L275.98 150.19 L276.47 148.53 L276.97 146.97 L277.47 145.52 L277.96 144.18 L278.46 142.93 L278.96 141.76 L279.45 140.66 L279.95 139.61 L280.45 138.60 L280.95 137.62 L281.44 136.68 L281.94 135.76 L282.44 134.88 L282.93 134.03 L283.43 133.22 L283.93 132.43 L284.42 131.68 L284.92 130.96 L285.42 130.27 L285.92 129.62 L286.41 129.00 L286.91 128.41 L287.41 127.85 L287.90 127.32 L288.40 126.82 L288.90 126.35 L289.39 125.90 L289.89 125.48 L290.39 125.07 L290.89 124.70 L291.38 124.34 L291.88 124.00 L292.38 123.68 L292.87 123.37 L293.37 123.08 L293.87 122.81 L294.36 122.55 L294.86 122.30 L295.36 122.07 L295.86 121.85 L296.35 121.64 L296.85 121.44 L297.35 121.26 L297.84 121.09 L298.34 120.92 L298.84 120.77 L299.33 120.63 L299.83 120.50 L300.33 120.38 L300.83 120.27 L301.32 120.17 L301.82 120.08 L302.32 120.00 L302.81 119.93 L303.31 119.86 L303.81 119.81 L304.30 119.76 L304.80 119.71 L305.30 119.68 L305.80 119.65 L306.29 119.63 L306.79 119.61 L307.29 119.60 L307.78 119.60 L308.28 119.60 L308.78 119.61 L309.27 119.62 L309.77 119.63 L310.27 119.66 L310.77 119.68 L311.26 119.72 L311.76 119.75 L312.26 119.80 L312.75 119.85 L313.25 119.90 L313.75 119.96 L314.24 120.03 L314.74 120.11 L315.24 120.18 L315.74 120.27 L316.23 120.36 L316.73 120.46 L317.23 120.57 L317.72 120.68 L318.22 120.80 L318.72 120.93 L319.21 121.06 L319.71 121.20 L320.21 121.35 L320.71 121.50 L321.20 121.66 L321.70 121.83 L322.20 122.01 L322.69 122.20 L323.19 122.39 L323.69 122.60 L324.18 122.81 L324.68 123.03 L325.18 123.27 L325.68 123.51 L326.17 123.76 L326.67 124.02 L327.17 124.29 L327.66 124.57 L328.16 124.86 L328.66 125.16 L329.15 125.48 L329.65 125.80 L330.15 126.14 L330.65 126.48 L331.14 126.84 L331.64 127.21 L332.14 127.59 L332.63 127.99 L333.13 128.40 L333.63 128.82 L334.12 129.25 L334.62 129.69 L335.12 130.15 L335.62 130.63 L336.11 131.11 L336.61 131.61 L337.11 132.13 L337.60 132.66 L338.10 133.20 L339.28 134.22 L340.46 135.24 L341.65 136.28 L342.83 137.31 L344.01 138.36 L345.19 139.41 L346.37 140.46 L347.56 141.52 L348.74 142.59 L349.92 143.66 L351.10 144.74 L352.28 145.82 L353.47 146.91 L354.65 148.01 L355.83 149.11 L357.01 150.22 L358.19 151.33 L359.38 152.45 L360.56 153.57 L361.74 154.70 L362.92 155.84 L364.11 156.98 L365.29 158.13 L366.47 159.29 L367.65 160.45 L368.83 161.61 L370.02 162.79 L371.20 163.96 L372.38 165.15 L373.56 166.34 L374.74 167.53 L375.93 168.73 L377.11 169.94 L378.29 171.16 L379.47 172.37 L380.65 173.60 L381.84 174.83 L383.02 176.07 L384.20 177.31" fill="none" stroke="#000" stroke-width="2.00" stroke-linejoin="round" stroke-linecap="butt" />
<path d="M72.00 147.20 L77.50 147.30" fill="none" stroke="#000" stroke-width="2.30" stroke-linejoin="round" stroke-linecap="butt" />
<path d="M84.00 147.60 L91.50 148.30" fill="none" stroke="#000" stroke-width="2.30" stroke-linejoin="round" stroke-linecap="butt" />
<path d="M96.90 148.70 L104.40 149.80" fill="none" stroke="#000" stroke-width="2.30" stroke-linejoin="round" stroke-linecap="butt" />
<path d="M109.70 149.80 L117.30 150.40" fill="none" stroke="#000" stroke-width="2.30" stroke-linejoin="round" stroke-linecap="butt" />
<path d="M122.30 151.80 Q127.55 148.75 129.40 150.70" fill="none" stroke="#000" stroke-width="2.3"/>
<path d="M133.90 153.90 L139.30 152.10" fill="none" stroke="#000" stroke-width="2.30" stroke-linejoin="round" stroke-linecap="butt" />
<path d="M145.50 153.00 Q150.00 157.95 154.50 153.90" fill="none" stroke="#000" stroke-width="2.3"/>
<path d="M159.90 153.00 L165.20 157.80" fill="none" stroke="#000" stroke-width="2.30" stroke-linejoin="round" stroke-linecap="butt" />
<path d="M169.70 155.70 L176.90 153.50" fill="none" stroke="#000" stroke-width="2.30" stroke-linejoin="round" stroke-linecap="butt" />
<path d="M181.00 157.80 Q184.90 162.00 187.20 161.00" fill="none" stroke="#000" stroke-width="2.3"/>
<path d="M190.80 157.10 Q194.90 154.05 197.00 156.00" fill="none" stroke="#000" stroke-width="2.3"/>
<path d="M200.60 160.20 L206.00 165.00" fill="none" stroke="#000" stroke-width="2.30" stroke-linejoin="round" stroke-linecap="butt" />
<path d="M209.60 160.20 Q215.50 154.90 219.40 158.40" fill="none" stroke="#000" stroke-width="2.3"/>
<path d="M223.00 162.90 L226.60 168.20" fill="none" stroke="#000" stroke-width="2.30" stroke-linejoin="round" stroke-linecap="butt" />
<path d="M231.20 166.00 L236.00 161.10" fill="none" stroke="#000" stroke-width="2.30" stroke-linejoin="round" stroke-linecap="butt" />
<path d="M240.50 158.80 Q241.80 157.20 245.90 162.40" fill="none" stroke="#000" stroke-width="2.3"/>
<path d="M249.10 167.70 L254.00 174.00" fill="none" stroke="#000" stroke-width="2.30" stroke-linejoin="round" stroke-linecap="butt" />
<path d="M257.50 170.40 L261.70 165.10" fill="none" stroke="#000" stroke-width="2.30" stroke-linejoin="round" stroke-linecap="butt" />
<path d="M266.00 161.80 Q272.65 160.65 276.30 162.90" fill="none" stroke="#000" stroke-width="2.3"/>
<path d="M279.90 167.70 L284.40 174.00" fill="none" stroke="#000" stroke-width="2.30" stroke-linejoin="round" stroke-linecap="butt" />
<path d="M287.10 175.80 L288.00 181.50" fill="none" stroke="#000" stroke-width="2.30" stroke-linejoin="round" stroke-linecap="butt" />
<path d="M291.50 167.60 L297.90 163.00" fill="none" stroke="#000" stroke-width="2.30" stroke-linejoin="round" stroke-linecap="butt" />
<path d="M305.30 160.80 L314.00 160.80" fill="none" stroke="#000" stroke-width="2.30" stroke-linejoin="round" stroke-linecap="butt" />
<path d="M321.40 162.40 L329.00 167.00" fill="none" stroke="#000" stroke-width="2.30" stroke-linejoin="round" stroke-linecap="butt" />
<path d="M335.40 174.60 L341.10 181.30" fill="none" stroke="#000" stroke-width="2.30" stroke-linejoin="round" stroke-linecap="butt" />
<path d="M344.90 187.10 L348.70 193.10" fill="none" stroke="#000" stroke-width="2.30" stroke-linejoin="round" stroke-linecap="butt" />
<path d="M352.10 197.20 L356.10 203.50" fill="none" stroke="#000" stroke-width="2.30" stroke-linejoin="round" stroke-linecap="butt" />
<path d="M358.40 207.40 L362.40 213.90" fill="none" stroke="#000" stroke-width="2.30" stroke-linejoin="round" stroke-linecap="butt" />
<path d="M364.90 217.80 L369.20 224.70" fill="none" stroke="#000" stroke-width="2.30" stroke-linejoin="round" stroke-linecap="butt" />
</svg>
</body></html>
